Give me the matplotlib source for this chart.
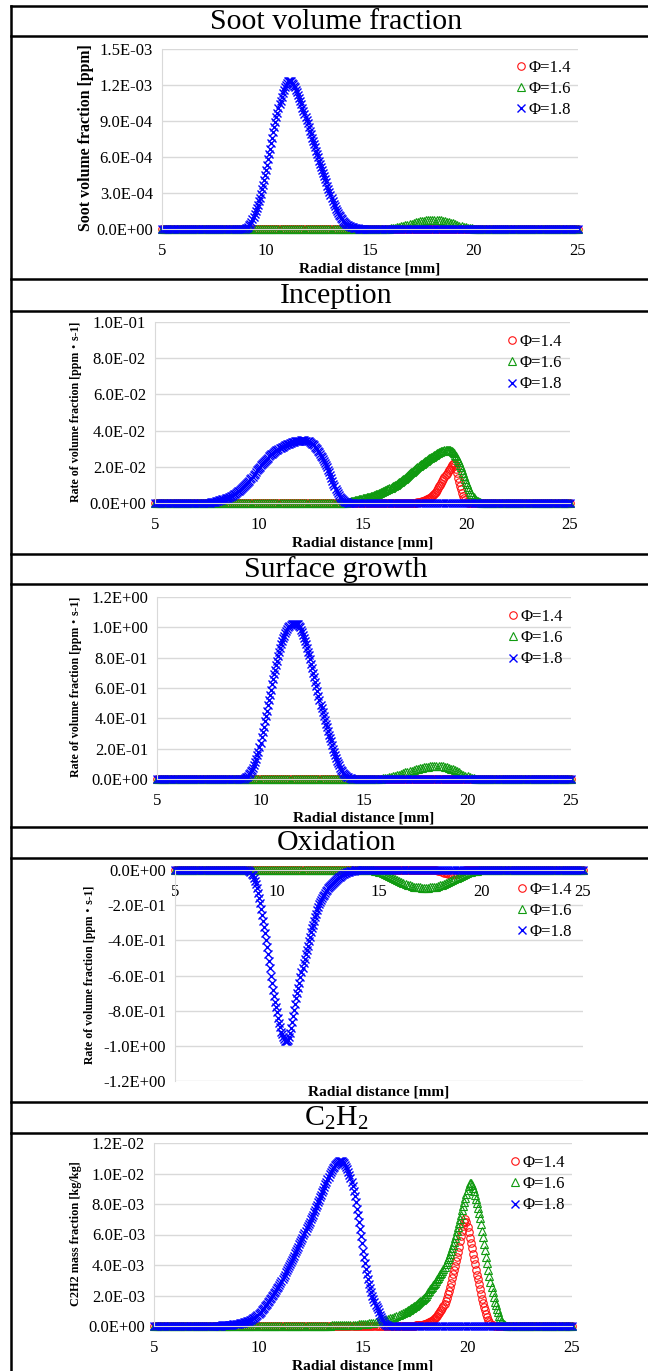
import numpy as np
import matplotlib
matplotlib.use("Agg")
import matplotlib.pyplot as plt
from matplotlib.ticker import FuncFormatter
from matplotlib.lines import Line2D

plt.rcParams['font.family'] = ['Liberation Serif', 'Noto Sans CJK JP', 'DejaVu Sans']
plt.rcParams['mathtext.fontset'] = 'custom'
plt.rcParams['mathtext.rm'] = 'Liberation Serif'
plt.rcParams['mathtext.default'] = 'regular'

# ---------------- data ----------------
radial = np.round(np.arange(5.0, 25.0001, 0.1), 2)   # base sample grid [mm]
phi_labels = ['Φ=1.4', 'Φ=1.6', 'Φ=1.8']
# each series: list of (start [mm], step [mm], values); zero elsewhere

# Soot volume fraction [ppm] (x1e-3)
soot_14 = []
soot_16 = [(15.6, 0.1, [0.001,0.002,0.003,0.004,
    0.006,0.008,0.010,0.013,0.017,0.021,0.025,0.030,0.035,0.040,
    0.045,0.050,0.055,0.059,0.063,0.066,0.069,0.071,0.073,0.074,
    0.075,0.075,0.074,0.073,0.071,0.068,0.065,0.061,0.056,0.051,
    0.046,0.040,0.035,0.029,0.024,0.019,0.014,0.010,0.007,0.005,
    0.003,0.002,0.001])]
soot_18 = [(9.0, 0.05, [0.000,0.005,0.010,0.020,0.030,0.045,0.060,0.080,0.100,0.125,
    0.150,0.175,0.200,0.230,0.260,0.295,0.330,0.370,0.410,0.450,
    0.490,0.535,0.580,0.625,0.670,0.715,0.760,0.805,0.850,0.890,
    0.930,0.970,1.010,1.040,1.070,1.100,1.130,1.155,1.180,1.200,
    1.220,1.230,1.235,1.235,1.230,1.220,1.210,1.195,1.180,1.160,
    1.140,1.115,1.090,1.065,1.040,1.010,0.980,0.955,0.930,0.905,
    0.880,0.850,0.820,0.790,0.760,0.735,0.710,0.680,0.650,0.625,
    0.600,0.570,0.540,0.515,0.490,0.465,0.440,0.415,0.390,0.360,
    0.330,0.305,0.280,0.255,0.230,0.210,0.190,0.170,0.150,0.135,
    0.120,0.105,0.090,0.080,0.070,0.060,0.050,0.043,0.037,0.032,
    0.027,0.023,0.019,0.016,0.013,0.010,0.008,0.006,0.005,0.004,
    0.003,0.0025,0.002,0.0015,0.001])]

# Inception [ppm s-1] (x1e-2)
inc_14 = [(17.5, 0.05, [0.01,0.015,0.02,0.03,0.04,0.055,0.07,0.085,0.10,0.12,
    0.14,0.17,0.20,0.23,0.26,0.295,0.33,0.375,0.42,0.485,
    0.55,0.635,0.72,0.82,0.92,1.02,1.12,1.21,1.30,1.41,
    1.52,1.62,1.72,1.81,1.90,2.00,2.10,2.17,2.22,2.10,
    1.90,1.65,1.40,1.17,0.95,0.75,0.55,0.39,0.25,0.15,
    0.08])]
inc_16 = [(14.2, 0.05, [0.02,0.03,0.04,0.055,0.07,0.085,0.10,0.115,0.13,0.145,
    0.16,0.175,0.19,0.205,0.22,0.235,
    0.25,0.265,0.28,0.295,0.31,0.325,0.34,0.355,0.37,0.39,
    0.41,0.43,0.45,0.47,0.49,0.515,0.54,0.565,0.59,0.615,
    0.64,0.67,0.70,0.73,0.76,0.79,0.82,0.85,0.88,0.915,
    0.95,0.985,1.02,1.06,1.10,1.14,1.18,1.22,1.26,1.305,
    1.35,1.395,1.44,1.49,1.54,1.59,1.64,1.69,1.74,1.79,
    1.84,1.89,1.94,1.99,2.04,2.085,2.13,2.175,2.22,2.26,
    2.30,2.34,2.38,2.42,2.46,2.495,2.53,2.565,2.60,2.635,
    2.67,2.705,2.74,2.77,2.80,2.825,2.85,2.87,2.89,2.905,
    2.92,2.925,2.93,2.925,2.92,2.89,2.86,2.805,2.75,2.665,
    2.58,2.48,2.38,2.25,2.12,1.975,1.83,1.665,1.50,1.335,
    1.17,1.025,0.88,0.75,0.62,0.51,0.40,0.32,0.24,0.185,
    0.13,0.095,0.06,0.04,0.02])]
inc_18 = [(7.6, 0.05, [0.02,0.025,0.03,0.04,0.05,0.06,0.07,0.085,
    0.10,0.12,0.14,0.16,0.18,0.20,0.22,0.24,0.26,0.28,
    0.30,0.325,0.35,0.375,0.40,0.435,0.47,0.51,0.55,0.595,
    0.64,0.685,0.73,0.78,0.83,0.88,0.93,0.98,1.03,1.09,
    1.15,1.225,1.30,1.375,1.45,1.535,1.62,1.71,1.80,1.875,
    1.95,2.015,2.08,2.14,2.20,2.26,2.32,2.385,2.45,2.51,
    2.57,2.625,2.68,2.73,2.78,2.825,2.87,2.91,2.95,2.985,
    3.02,3.055,3.09,3.12,3.15,3.18,3.21,3.235,3.26,3.285,
    3.31,3.33,3.35,3.37,3.39,3.405,3.42,3.43,3.44,3.445,
    3.45,3.455,3.46,3.46,3.46,3.45,3.44,3.42,3.40,3.365,
    3.33,3.285,3.24,3.18,3.12,3.045,2.97,2.885,2.80,2.71,
    2.62,2.525,2.43,2.325,2.22,2.11,2.00,1.85,1.70,1.54,
    1.38,1.215,1.05,0.915,0.78,0.66,0.54,0.44,0.34,0.27,
    0.20,0.15,0.10,0.075,0.05,0.035,0.02,0.015,0.01])]

# Surface growth [ppm s-1]
sg_14 = []
sg_16 = [(15.6, 0.1, [0.001,0.002,0.003,0.004,
    0.006,0.008,0.011,0.014,0.017,0.021,0.025,0.029,0.034,0.038,
    0.043,0.047,0.052,0.056,0.061,0.065,0.069,0.072,0.075,0.078,
    0.080,0.082,0.083,0.084,0.085,0.085,0.085,0.084,0.083,0.081,
    0.078,0.074,0.069,0.063,0.057,0.050,0.043,0.036,0.029,0.023,
    0.017,0.012,0.008,0.005,0.003,0.001])]
sg_18 = [(9.2, 0.05, [0.000,0.005,0.010,0.015,0.020,0.030,0.040,0.050,0.060,0.075,
    0.090,0.110,0.130,0.155,0.180,0.210,
    0.240,0.275,0.310,0.345,0.380,0.415,0.450,0.485,0.520,0.555,
    0.590,0.625,0.660,0.690,0.720,0.750,0.780,0.810,0.840,0.865,
    0.890,0.910,0.930,0.945,0.960,0.975,0.990,1.000,1.010,1.015,
    1.020,1.023,1.025,1.025,1.025,1.023,1.020,1.010,1.000,0.985,
    0.970,0.950,0.930,0.910,0.890,0.865,0.840,0.815,0.790,0.760,
    0.730,0.700,0.670,0.640,0.610,0.580,0.550,0.520,0.490,0.465,
    0.440,0.415,0.390,0.365,0.340,0.315,0.290,0.270,0.250,0.225,
    0.200,0.180,0.160,0.140,0.120,0.105,0.090,0.075,0.060,0.050,
    0.040,0.032,0.025,0.020,0.015,0.011,0.008,0.005,0.003])]

# Oxidation [ppm s-1]
ox_14 = [(17.8, 0.1, [-0.002,-0.004,
    -0.007,-0.011,-0.015,-0.019,-0.022,-0.024,-0.025,-0.024,-0.020,-0.014,
    -0.008,-0.003])]
ox_16 = [(14.7, 0.1, [-0.002,-0.004,-0.007,
    -0.010,-0.014,-0.018,-0.023,-0.028,-0.034,-0.040,-0.046,-0.052,-0.058,
    -0.064,-0.070,-0.075,-0.080,-0.084,-0.088,-0.091,-0.094,-0.096,-0.098,
    -0.099,-0.100,-0.100,-0.100,-0.100,-0.099,-0.098,-0.096,-0.094,-0.091,
    -0.088,-0.084,-0.080,-0.075,-0.070,-0.064,-0.058,-0.052,-0.046,-0.040,
    -0.034,-0.028,-0.023,-0.018,-0.014,-0.010,-0.007,-0.005,-0.003,-0.001])]
ox_18 = [(8.6, 0.05, [0.0,-0.005,-0.01,-0.02,-0.03,-0.045,-0.06,-0.08,
    -0.10,-0.13,-0.16,-0.19,-0.22,-0.255,-0.29,-0.325,-0.36,-0.40,
    -0.44,-0.48,-0.52,-0.56,-0.60,-0.64,-0.68,-0.715,-0.75,-0.78,
    -0.81,-0.84,-0.87,-0.895,-0.92,-0.935,-0.95,-0.96,-0.97,-0.975,
    -0.975,-0.965,-0.95,-0.925,-0.90,-0.865,-0.83,-0.795,-0.76,-0.73,
    -0.70,-0.67,-0.64,-0.61,-0.58,-0.555,-0.53,-0.505,-0.48,-0.455,
    -0.43,-0.405,-0.38,-0.355,-0.33,-0.31,-0.29,-0.27,-0.25,-0.23,
    -0.21,-0.195,-0.18,-0.17,-0.16,-0.15,-0.14,-0.13,-0.12,-0.112,
    -0.105,-0.098,-0.092,-0.085,-0.079,-0.073,-0.067,-0.061,-0.056,-0.051,
    -0.046,-0.041,-0.037,-0.033,-0.029,-0.025,-0.022,-0.019,-0.016,-0.013,
    -0.011,-0.009,-0.007,-0.005,-0.004,-0.003,-0.002,-0.0015,-0.001])]

# C2H2 mass fraction [kg/kg] (x1e-3)
c2_14 = [(17.5, 0.05, [0.03,0.035,0.04,0.05,0.06,0.07,0.08,0.095,0.11,0.13,
    0.15,0.175,0.20,0.23,0.26,0.305,0.35,0.405,0.46,0.53,
    0.60,0.685,0.77,0.865,0.96,1.055,1.15,1.30,1.45,1.65,
    1.85,2.075,2.30,2.575,2.85,3.125,3.40,3.675,3.95,4.25,
    4.55,4.875,5.20,5.55,5.90,6.225,6.55,6.80,7.00,6.80,
    6.50,6.15,5.80,5.45,5.10,4.75,4.40,4.05,3.70,3.375,
    3.05,2.725,2.40,2.10,1.80,1.525,1.25,1.025,0.80,0.60,
    0.40,0.275,0.15,0.095,0.04])]
c2_16 = [(13.0, 0.1, [0.01,0.015,0.02,0.025,0.03,0.035,0.04,0.045,0.05,0.055,
    0.05,0.055,0.06,0.065,0.07,0.075,0.08,0.09,0.10,0.11,
    0.12,0.135,0.15,0.17,0.19,0.215,0.24,0.27,0.30,0.335,
    0.37,0.41,0.45,0.495,0.54,0.59,0.64,0.70,0.76,0.83]),
    (17.0, 0.05, [0.90,0.94,0.98,1.02,1.06,1.105,1.15,1.195,1.24,1.29,
    1.34,1.395,1.45,1.51,1.57,1.635,1.70,1.775,1.85,1.925,
    2.00,2.10,2.20,2.30,2.40,2.485,2.57,2.66,2.75,2.85,
    2.95,3.05,3.15,3.265,3.38,3.50,3.62,3.76,3.90,4.05,
    4.20,4.375,4.55,4.725,4.90,5.10,5.30,5.525,5.75,6.00,
    6.25,6.50,6.75,7.025,7.30,7.575,7.85,8.125,8.40,8.675,
    8.95,9.20,9.35,9.35,9.25,9.07,8.85,8.61,8.35,8.06,
    7.75,7.41,7.05,6.66,6.25,5.83,5.40,4.975,4.55,4.125,
    3.70,3.30,2.90,2.55,2.20,1.90,1.60,1.35,1.10,0.89,
    0.68,0.51,0.35,0.25,0.15,0.10,0.05])]
c2_18 = [(8.0, 0.05, [0.010,0.015,0.020,0.025,0.030,0.035,0.040,0.045,0.050,0.055,
    0.060,0.065,0.070,0.075,0.080,0.090,0.100,0.110,0.120,0.130,
    0.14,0.155,0.17,0.185,0.20,0.22,0.24,0.26,0.28,0.30,
    0.32,0.345,0.37,0.41,0.45,0.50,0.55,0.61,0.67,0.735,
    0.80,0.875,0.95,1.025,1.10,1.19,1.28,1.375,1.47,1.565,
    1.66,1.76,1.86,1.96,2.06,2.16,2.26,2.37,2.48,2.59,
    2.70,2.835,2.97,3.105,3.24,3.375,3.51,3.645,3.78,3.915,
    4.05,4.19,4.33,4.47,4.61,4.755,4.90,5.05,5.20,5.35,
    5.50,5.65,5.80,5.95,6.10,6.25,6.40,6.55,6.70,6.85,
    7.00,7.15,7.30,7.465,7.63,7.795,7.96,8.125,8.29,8.455,
    8.62,8.785,8.95,9.115,9.28,9.45,9.62,9.785,9.95,10.09,
    10.22,10.34,10.45,10.54,10.63,10.69,10.75,10.79,10.82,10.83,
    10.82,10.77,10.70,10.59,10.45,10.28,10.10,9.90,9.70,9.45,
    9.20,8.87,8.50,8.10,7.70,7.28,6.85,6.38,5.90,5.42,
    4.95,4.55,4.15,3.77,3.40,3.07,2.75,2.47,2.20,1.97,
    1.75,1.57,1.40,1.25,1.10,0.92,0.75,0.60,0.45,0.33,
    0.22,0.14,0.08,0.045,0.02])]


def build(segments, scale=1.0):
    xs = [radial]
    ys = [np.zeros(len(radial))]
    keep = np.ones(len(radial), bool)
    for start, step, vals in segments:
        sx = np.round(start + step * np.arange(len(vals)), 3)
        keep &= ~((radial >= sx[0] - 1e-6) & (radial <= sx[-1] + 1e-6))
        xs.append(sx)
        ys.append(np.asarray(vals, float) * scale)
    xs[0] = radial[keep]
    ys[0] = ys[0][keep]
    x = np.concatenate(xs)
    y = np.concatenate(ys)
    o = np.argsort(x, kind='stable')
    return x[o], y[o]

# ---------------- layout ----------------
W, H = 648, 1371
fig = plt.figure(figsize=(W / 100, H / 100), dpi=100)
renderer = fig.canvas.get_renderer()

def fy(y):
    return 1 - y / H

def fit(t, target, which='width'):
    fs = t.get_fontsize()
    for _ in range(3):
        bb = t.get_window_extent(renderer)
        cur = bb.width if which == 'width' else bb.height
        if cur > 0:
            fs *= target / cur
            t.set_fontsize(fs)

# table lines
lc = 'black'
for yy in [6, 36, 279, 311, 554, 584, 827, 858, 1102, 1133]:
    fig.add_artist(Line2D([11 / W, 1.0], [fy(yy), fy(yy)], color=lc, lw=1.8))
fig.add_artist(Line2D([11 / W, 11 / W], [fy(6), 0.0], color=lc, lw=1.8))

titles = [("Soot volume fraction", 21), ("Inception", 295), ("Surface growth", 569),
          ("Oxidation", 842), ("C$_2$H$_2$", 1117)]
for txt, yc in titles:
    fig.text(336 / W, fy(yc + 1), txt, ha='center', va='center', fontsize=21.5)

panels = [
    dict(l=162, r=578, t=49, b=229, ylim=(0, 1.5e-3),
         yticks=[0, 3e-4, 6e-4, 9e-4, 1.2e-3, 1.5e-3],
         data=[build(soot_14, 1e-3), build(soot_16, 1e-3), build(soot_18, 1e-3)],
         ylabel="Soot volume fraction [ppm]", ylx=86, yllen=186,
         xly=269, leg=(521, 89)),
    dict(l=155, r=570, t=322, b=503, ylim=(0, 0.1),
         yticks=[0, 0.02, 0.04, 0.06, 0.08, 0.1],
         data=[build(inc_14, 1e-2), build(inc_16, 1e-2), build(inc_18, 1e-2)],
         ylabel="Rate of volume fraction [ppm・s-1]", ylx=76, yllen=182,
         xly=543, leg=(512, 363)),
    dict(l=157, r=571, t=597, b=779, ylim=(0, 1.2),
         yticks=[0, 0.2, 0.4, 0.6, 0.8, 1.0, 1.2],
         data=[build(sg_14), build(sg_16), build(sg_18)],
         ylabel="Rate of volume fraction [ppm・s-1]", ylx=76, yllen=182,
         xly=818, leg=(513, 638)),
    dict(l=175, r=583, t=870, b=1081, ylim=(-1.2, 0),
         yticks=[-1.2, -1.0, -0.8, -0.6, -0.4, -0.2, 0],
         data=[build(ox_14), build(ox_16), build(ox_18)],
         ylabel="Rate of volume fraction [ppm・s-1]", ylx=90, yllen=178,
         xly=1092, leg=(522, 911)),
    dict(l=154, r=572, t=1143, b=1326, ylim=(0, 0.012),
         yticks=[0, 0.002, 0.004, 0.006, 0.008, 0.010, 0.012],
         data=[build(c2_14, 1e-3), build(c2_16, 1e-3), build(c2_18, 1e-3)],
         ylabel="C2H2 mass fraction [kg/kg]", ylx=76, yllen=145,
         xly=1366, leg=(515, 1184)),
]

styles = [dict(marker='o', color='#ff1010', mfc='none', ms=5.4, mew=0.8),
          dict(marker='^', color='#109a10', mfc='none', ms=5.6, mew=0.8),
          dict(marker='x', color='#0000ff', ms=5.2, mew=1.0)]

fmt = FuncFormatter(lambda v, p: f"{v:.1E}")
grid_c = '#d9d9d9'

for i, p in enumerate(panels):
    ax = fig.add_axes([p['l'] / W, fy(p['b']), (p['r'] - p['l']) / W, (p['b'] - p['t']) / H])
    ax.set_xlim(5, 25)
    ax.set_ylim(*p['ylim'])
    ax.set_xticks([5, 10, 15, 20, 25])
    ax.set_yticks(p['yticks'])
    ax.yaxis.set_major_formatter(fmt)
    ax.grid(axis='y', color=grid_c, lw=1.0)
    ax.set_axisbelow(True)
    for s in ['top', 'right']:
        ax.spines[s].set_visible(False)
    ax.spines['left'].set_color(grid_c)
    ax.spines['bottom'].set_color(grid_c)
    ax.tick_params(length=0, labelsize=12)
    ax.tick_params(axis='y', pad=6.5)
    ax.tick_params(axis='x', pad=10.0)
    handles = []
    for (xs, ys), st, lab in zip(p['data'], styles, phi_labels):
        h, = ax.plot(xs, ys, linestyle='none', clip_on=False, label=lab, **st)
        handles.append(h)
    if i == 3:
        ax.spines['bottom'].set_position(('data', 0))
    xl = fig.text((p['l'] + p['r']) / 2 / W, fy(p['xly']), "Radial distance [mm]",
                  ha='center', va='center', fontsize=11, fontweight='bold')
    fit(xl, 141)
    yl = fig.text(p['ylx'] / W, fy((p['t'] + p['b']) / 2 - 1), p['ylabel'], rotation=90,
                  ha='center', va='center', fontsize=9, fontweight='bold')
    fit(yl, p['yllen'], 'height')
    lx, ly = p['leg']
    ax.legend(handles=handles, loc='center left',
              bbox_to_anchor=((lx - 5.5) / W, fy(ly)), bbox_transform=fig.transFigure,
              frameon=False, fontsize=12, handlelength=0.6, handletextpad=0.2,
              borderpad=0, borderaxespad=0, labelspacing=0.32, markerscale=1.0)

fig.savefig("out.png", dpi=100)
